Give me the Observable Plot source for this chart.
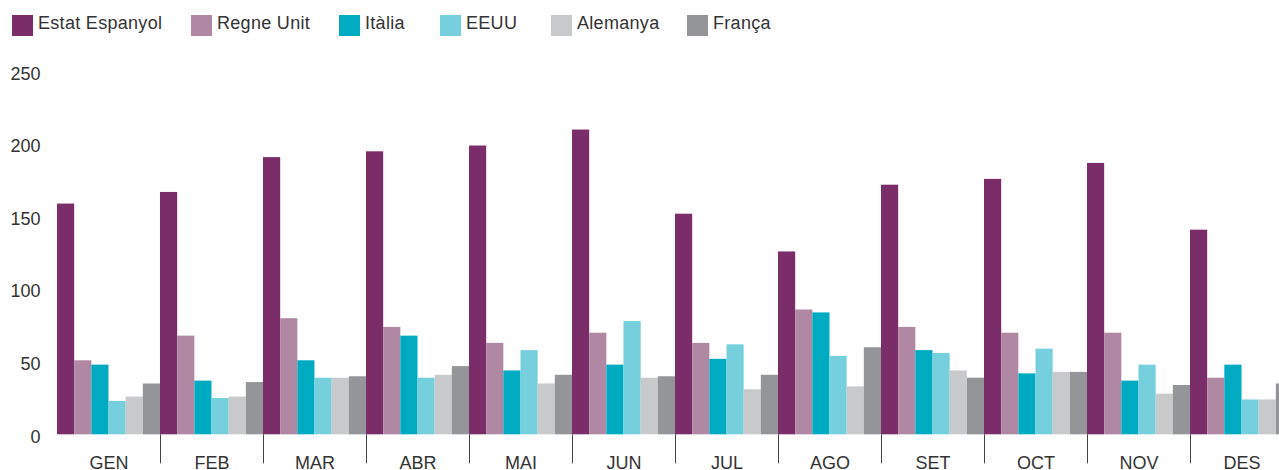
<!DOCTYPE html>
<html>
<head>
<meta charset="utf-8">
<script src="https://cdn.jsdelivr.net/npm/d3@7"></script>
<script src="https://cdn.jsdelivr.net/npm/@observablehq/plot@0.6"></script>
<style>
  html, body { margin: 0; padding: 0; background: #fff; }
  body { width: 1279px; height: 470px; overflow: hidden; font-family: "Liberation Sans", Arial, sans-serif; color: #333; }
  #legend { height: 50px; position: relative; font-size: 18px; line-height: 18px; letter-spacing: 0.3px; }
  .item { position: absolute; top: 14px; display: flex; align-items: flex-start; white-space: nowrap; }
  .sw { width: 21px; height: 21px; margin-top: 1px; margin-right: 5px; }
  #chart svg { display: block; }
</style>
</head>
<body>
<div id="legend"></div>
<div id="chart"></div>
<script>
const months = ["GEN","FEB","MAR","ABR","MAI","JUN","JUL","AGO","SET","OCT","NOV","DES"];
const countries = ["Estat Espanyol","Regne Unit","Itàlia","EEUU","Alemanya","França"];
const colors = ["#7b2d69","#b088a3","#00abc2","#76cfdd","#c8c9cb","#939598"];
const yTicks = [0, 50, 100, 150, 200, 250];

const espanyol  = [159,167,191,195,199,210,152,126,172,176,187,141];
const regneUnit = [51, 68, 80, 74, 63, 70, 63, 86, 74, 70, 70, 39];
const italia    = [48, 37, 51, 68, 44, 48, 52, 84, 58, 42, 37, 48];
const eeuu      = [23, 25, 39, 39, 58, 78, 62, 54, 56, 59, 48, 24];
const alemanya  = [26, 26, 39, 41, 35, 39, 31, 33, 44, 43, 28, 24];
const franca    = [35, 36, 40, 47, 41, 40, 41, 60, 39, 43, 34, 35];

const series = [espanyol, regneUnit, italia, eeuu, alemanya, franca];
const n = countries.length;

// table: one row per month x country, slot index used through the x scale
const table = [];
months.forEach((m, i) => {
  countries.forEach((c, j) => {
    table.push({month: m, country: c, slot: i * n + j, value: series[j][i]});
  });
});
const separators = months.slice(1).map((m, i) => (i + 1) * n);
const centers = months.map((m, i) => i * n + n / 2);

// legend (HTML, above the SVG)
const legendLeft = [12, 191, 339, 440, 551, 687];
const legend = document.getElementById("legend");
countries.forEach((c, j) => {
  const it = document.createElement("div");
  it.className = "item";
  it.style.left = legendLeft[j] + "px";
  const sw = document.createElement("div");
  sw.className = "sw";
  sw.style.background = colors[j];
  const t = document.createElement("span");
  t.textContent = c;
  it.appendChild(sw); it.appendChild(t);
  legend.appendChild(it);
});

const chart = Plot.plot({
  width: 1279,
  height: 420,
  marginTop: 21.5,
  marginBottom: 35.7,
  marginLeft: 57,
  marginRight: 0,
  style: {fontFamily: "'Liberation Sans', Arial, sans-serif", fontSize: "18px", color: "#333", background: "#fff"},
  x: {type: "linear", domain: [0, months.length * n], range: [57, 1293]},
  y: {domain: [0, 250]},
  color: {domain: countries, range: colors},
  marks: [
    Plot.rectY(table, {x1: "slot", x2: d => d.slot + 1, y: "value", fill: "country", inset: 0}),
    Plot.axisY(yTicks, {tickSize: 0, tickPadding: 17, dy: 2, label: null, fill: "#333"}),
    Plot.axisX(separators, {tickSize: 29, tickFormat: () => "", stroke: "#444", label: null}),
    Plot.axisX(centers, {tickSize: 0, tickPadding: 21.5, tickFormat: d => months[Math.floor(d / n)], label: null, fill: "#333"})
  ]
});
document.getElementById("chart").appendChild(chart);
</script>
</body>
</html>
